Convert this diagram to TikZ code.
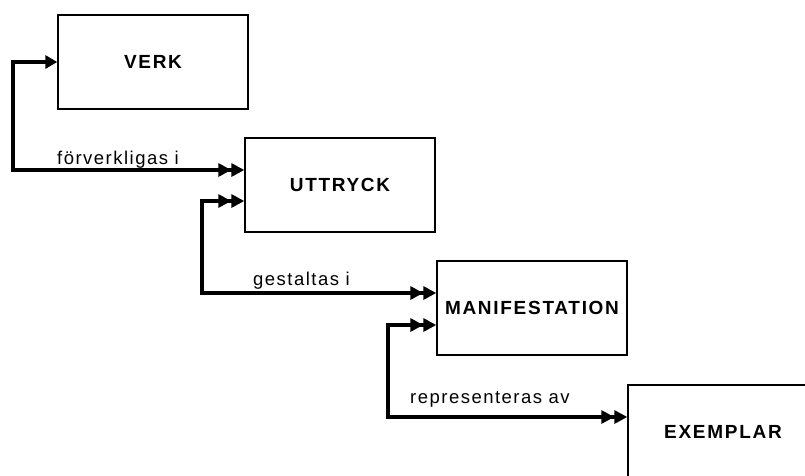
\documentclass[tikz,border=0pt]{standalone}
\usepackage{fontspec}
\setmainfont{Liberation Sans}
\newfontfamily\boxfont[LetterSpace=9]{Liberation Sans Bold}
\newfontfamily\relfont[LetterSpace=8]{Liberation Sans}
\usetikzlibrary{arrows.meta,calc}
\tikzset{
  entity/.style={draw=black, line width=1.4pt, minimum width=190pt, minimum height=94pt,
    inner sep=0pt, font=\boxfont\fontsize{19}{21}\selectfont, anchor=center},
  link/.style={line width=3.2pt, line join=miter},
  rel/.style={anchor=base west, font=\relfont\fontsize{18.5}{20}\selectfont, inner sep=0pt}
}
\begin{document}
\begin{tikzpicture}[x=1pt,y=-1pt,
  tip1/.tip={Triangle[length=12pt,width=13pt]},
  tip2/.tip={Triangle[length=13pt,width=13pt]Triangle[length=13pt,width=13pt]}]
\clip (0,0) rectangle (805,475);
\fill[white] (0,0) rectangle (805,475);
\node[entity] (verk) at (153,62) {VERK};
\node[entity] (uttryck) at (340,185) {UTTRYCK};
\node[entity] (manif) at (532,308) {MANIFESTATION};
\node[entity] (exemplar) at (723,432) {EXEMPLAR};
% bend points and entry levels
\coordinate (c1) at (13,62);
\coordinate (e1) at (13,170);
\coordinate (c2) at (202,201);
\coordinate (e2) at (202,293);
\coordinate (c3) at (388,325);
\coordinate (e3) at (388,417);
\draw[link,tip1-tip2] (verk.west |- c1) -- (c1) -- (e1) -- (uttryck.west |- e1);
\draw[link,tip2-tip2] (uttryck.west |- c2) -- (c2) -- (e2) -- (manif.west |- e2);
\draw[link,tip2-tip2] (manif.west |- c3) -- (c3) -- (e3) -- (exemplar.west |- e3);
% labels
\node[rel] (l1) at (57,164) {förverkligas i};
\node[rel] (l2) at (253,285) {gestaltas i};
\node[rel] (l3) at (410,403) {representeras av};
\end{tikzpicture}
\end{document}
